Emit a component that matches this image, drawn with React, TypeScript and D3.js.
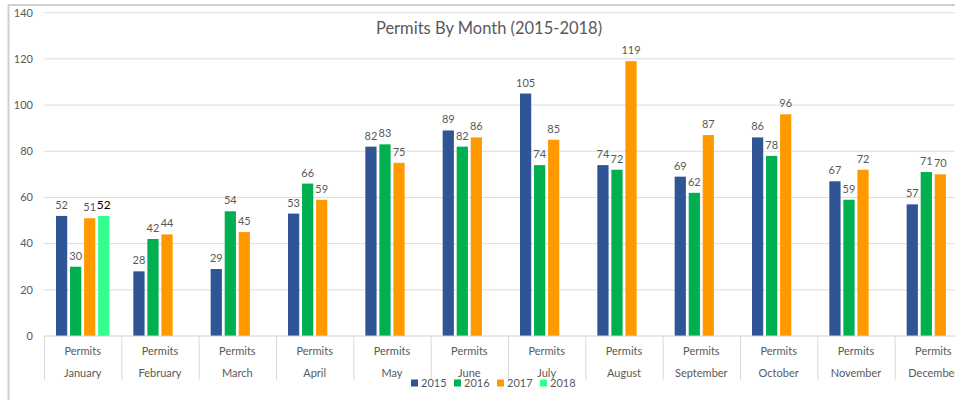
import * as d3 from "d3"

const MONTHS = ["January", "February", "March", "April", "May", "June", "July", "August", "September", "October", "November", "December"]
const YEARS = ["2015", "2016", "2017", "2018"]
const P2015 = [52, 28, 29, 53, 82, 89, 105, 74, 69, 86, 67, 57]
const P2016 = [30, 42, 54, 66, 83, 82, 74, 72, 62, 78, 59, 71]
const P2017 = [51, 44, 45, 59, 75, 86, 85, 119, 87, 96, 72, 70]
const P2018: (number | null)[] = [52, null, null, null, null, null, null, null, null, null, null, null]
const Y_TICKS = [0, 20, 40, 60, 80, 100, 120, 140]
const COLORS = ["#2F5597", "#00B050", "#FF9900", "#33FF8F"]

const W = 955
const H = 400
const FONT = "Lato, 'Open Sans', sans-serif"
const GRAY = "#595959"

export default function App() {
  const series = [P2015, P2016, P2017, P2018]
  const left = 44
  const right = 972
  const y = d3.scaleLinear().domain([0, 140]).range([336, 12.7])
  const x0 = d3.scaleBand<string>().domain(MONTHS).range([left, right]).paddingInner(0).paddingOuter(0)
  const pad = 12
  const x1 = d3.scaleBand<string>().domain(YEARS).range([pad, x0.bandwidth() - pad]).paddingInner(0.2).paddingOuter(0)

  return (
    <svg width={W} height={H} style={{ position: "absolute", left: 0, top: 0, background: "#fff" }} fontFamily={FONT}>
      {/* frame */}
      <line x1={8.5} x2={8.5} y1={5} y2={H} stroke="#d0d0d0" strokeWidth={2} />
      <line x1={8} x2={W} y1={5} y2={5} stroke="#d0d0d0" strokeWidth={2} />

      {/* gridlines + y labels */}
      {Y_TICKS.map((t) => (
        <g key={t}>
          {t > 0 && <line x1={left} x2={W} y1={y(t)} y2={y(t)} stroke="#dcdcdc" strokeWidth={1} />}
          <text x={33} y={y(t)} dy="0.35em" textAnchor="end" fontSize={11} fill={GRAY}>{t}</text>
        </g>
      ))}

      <text x={489} y={28} dy="0.35em" textAnchor="middle" fontSize={16.5} fill={GRAY}>Permits By Month (2015-2018)</text>

      {/* bars */}
      {MONTHS.map((m, i) => (
        <g key={m} transform={`translate(${x0(m)},0)`}>
          {series.map((s, k) => {
            const v = s[i]
            if (v == null) return null
            const bx = x1(YEARS[k]) as number
            const isLast = k === 3
            return (
              <g key={k}>
                <rect x={bx} y={y(v)} width={x1.bandwidth()} height={y(0) - y(v)} fill={COLORS[k]} />
                <text x={bx + x1.bandwidth() / 2} y={y(v) - 7} textAnchor="middle"
                  fontSize={isLast ? 12 : 11} fill={isLast ? "#000" : GRAY}>{v}</text>
              </g>
            )
          })}
        </g>
      ))}

      {/* x axis */}
      <line x1={left} x2={W} y1={y(0)} y2={y(0)} stroke="#d0d0d0" strokeWidth={1} />
      {MONTHS.map((m) => (
        <g key={m}>
          <line x1={(x0(m) as number) + 0.5} x2={(x0(m) as number) + 0.5} y1={y(0)} y2={380} stroke="#d9d9d9" />
          <text x={(x0(m) as number) + x0.bandwidth() / 2} y={351} dy="0.35em" textAnchor="middle" fontSize={11} fill={GRAY}>Permits</text>
          <text x={(x0(m) as number) + x0.bandwidth() / 2} y={373} dy="0.35em" textAnchor="middle" fontSize={11} fill={GRAY}>{m}</text>
        </g>
      ))}

      {/* legend */}
      {YEARS.map((yr, k) => (
        <g key={yr} transform={`translate(${411 + k * 43},383)`}>
          <rect x={0} y={-3.5} width={7} height={7} fill={COLORS[k]} />
          <text x={10} y={0} dy="0.35em" fontSize={11} fill={GRAY}>{yr}</text>
        </g>
      ))}
    </svg>
  )
}
